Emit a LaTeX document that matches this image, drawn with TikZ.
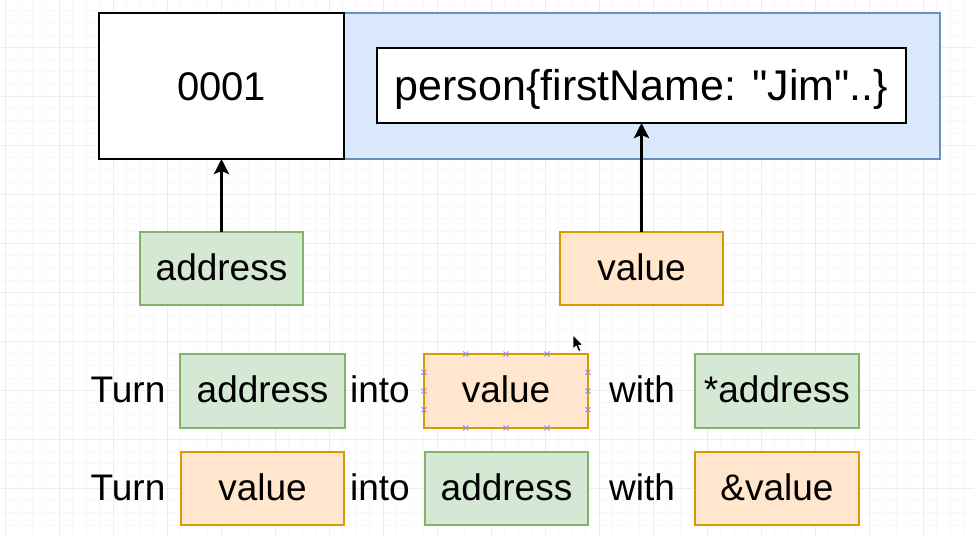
\documentclass[tikz,border=0pt]{standalone}
\usepackage{fontspec}
\setmainfont{Liberation Sans}
\usetikzlibrary{arrows.meta}
\definecolor{gridmajor}{HTML}{EDEDED}
\definecolor{gridminor}{HTML}{F8F8F8}
\definecolor{memfill}{HTML}{DAE8FC}
\definecolor{memline}{HTML}{6C8EBF}
\definecolor{grnfill}{HTML}{D5E8D4}
\definecolor{grnline}{HTML}{82B366}
\definecolor{orgfill}{HTML}{FFE6CC}
\definecolor{orgline}{HTML}{D79B00}
\definecolor{handle}{HTML}{8C8CE8}
\tikzset{
  base/.style={inner sep=0pt, outer sep=0pt, text height=26.5pt, text depth=3pt,
    font=\fontsize{37}{44}\selectfont},
  blackbox/.style={base, draw=black, fill=white, line width=2pt},
  grnbox/.style={base, draw=grnline, fill=grnfill, line width=2pt,
    minimum width=164pt, minimum height=74pt},
  orgbox/.style={base, draw=orgline, fill=orgfill, line width=2pt,
    minimum width=164pt, minimum height=74pt},
  word/.style={base},
  ptr/.style={line width=3pt, -{Stealth[length=15pt,width=15pt,inset=3pt]}},
  handlemark/.style={draw=handle, line width=0.9pt},
}
\begin{document}
\begin{tikzpicture}[x=1pt,y=-1pt]
  \useasboundingbox (0,0) rectangle (974,535);
  \fill[white] (0,0) rectangle (974,535);
  % background grid
  \foreach \i in {0,...,72} {
    \draw[gridminor, line width=0.8pt] ({5+13.5*\i-13.5},0) -- ++(0,535);
  }
  \foreach \j in {0,...,45} {
    \draw[gridminor, line width=0.8pt] (0,{-1.7+12.25*\j}) -- ++(974,0);
  }
  \foreach \i in {0,...,18} {
    \draw[gridmajor, line width=1pt] ({5+54*\i},0) -- ++(0,535);
  }
  \foreach \j in {0,...,11} {
    \draw[gridmajor, line width=1pt] (0,{-1.7+49*\j}) -- ++(974,0);
  }

  % memory cell: address part and value part
  \node[base, draw=memline, fill=memfill, line width=2pt,
        minimum width=596pt, minimum height=146pt] (mem) at (642,86) {};
  \node[blackbox, minimum width=245pt, minimum height=146pt,
        font=\fontsize{40}{48}\selectfont, text height=28.6pt, text depth=0pt]
        (cell) at (221.5,86) {0001};
  \node[blackbox, minimum width=529pt, minimum height=75pt,
        font=\fontsize{43}{52}\selectfont, text height=30.8pt, text depth=0pt]
        (obj) at (641.5,85.5) {person\{firstName: \textquotedbl Jim\textquotedbl..\}};

  % labels pointing into the cell
  \node[grnbox, minimum width=163pt, minimum height=73pt] (addr) at (221.5,268.5) {address};
  \node[orgbox, minimum width=163pt, minimum height=73pt] (val) at (641.5,268.5) {value};
  \draw[ptr] (addr.north) -- (addr.north |- cell.south);
  \draw[ptr] (val.north) -- (val.north |- obj.south);

  % first rule
  \node[word] (turn1) at (128,391) {Turn};
  \node[grnbox, minimum width=165pt] (a1) at (262.5,391) {address};
  \node[word] (into1) at (380,391) {into};
  \node[orgbox] (v1) at (506,391) {value};
  \node[word] (with1) at (642,391) {with};
  \node[grnbox] (deref) at (777,391) {*address};

  % second rule
  \node[word] (turn2) at (128,488.5) {Turn};
  \node[orgbox, minimum width=163pt, minimum height=73pt] (v2) at (262.5,488.5) {value};
  \node[word] (into2) at (380,488.5) {into};
  \node[grnbox, minimum width=163pt, minimum height=73pt] (a2) at (506.5,488.5) {address};
  \node[word] (with2) at (642,488.5) {with};
  \node[orgbox, minimum width=164pt, minimum height=73pt] (ref) at (777,488.5) {\&value};

  % selection handles on the selected box
  \foreach \px/\py in {465.7/354, 506/354, 547/354, 465.7/428, 506/428, 547/428,
                       424/372.3, 424/391, 424/409.7, 588/372.3, 588/391, 588/409.7} {
    \draw[handlemark] (\px-2.5,\py-2.5) -- (\px+2.5,\py+2.5)
                      (\px-2.5,\py+2.5) -- (\px+2.5,\py-2.5);
  }

  % mouse pointer
  \draw[fill=black, draw=white, line width=0.6pt, line join=round]
    (573,335) -- (573,349) -- (576.2,346) -- (578.8,351.5) -- (581,350.5)
    -- (578.5,345.2) -- (582.8,345.2) -- cycle;
\end{tikzpicture}
\end{document}
